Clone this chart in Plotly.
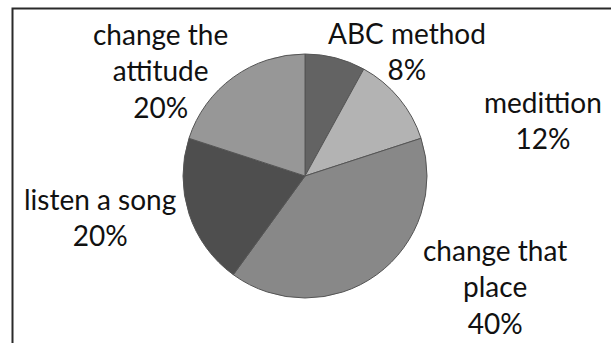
import plotly.graph_objects as go

# Share of each stress-relief approach (percent)
categories = ["ABC method", "medittion", "change that place", "listen a song", "change the attitude"]
values = [8, 12, 40, 20, 20]
# Line breaks used in the slice labels
label_lines = [["ABC method"], ["medittion"], ["change that", "place"], ["listen a song"], ["change the", "attitude"]]

colors = ["#636363", "#b3b3b3", "#888888", "#4e4e4e", "#979797"]

W, H = 611, 343
cx, cy, r = 305, 176, 122  # pie centre and radius in pixels

fig = go.Figure(go.Pie(
    labels=categories,
    values=values,
    sort=False,
    direction="clockwise",
    rotation=0,
    marker=dict(colors=colors, line=dict(color="#555555", width=1)),
    textinfo="none",
    hoverinfo="label+percent",
    showlegend=False,
    domain=dict(x=[(cx - r) / W, (cx + r) / W], y=[1 - (cy + r) / H, 1 - (cy - r) / H]),
))

# Label block centres (pixels) for each slice
label_pos = [(407, 51), (543, 120), (495, 286), (100, 217), (160, 70)]

total = sum(values)
for lines, v, (px, py) in zip(label_lines, values, label_pos):
    text = "<br>".join(lines + [f"{round(100 * v / total)}%"])
    fig.add_annotation(
        x=px / W, y=1 - py / H, xref="paper", yref="paper",
        text=text, showarrow=False, xanchor="center", yanchor="middle",
        font=dict(family="Lato", size=28, color="#111111"),
    )

# Chart frame (top and left edges visible)
fig.add_shape(type="rect", xref="paper", yref="paper",
              x0=12.5 / W, x1=1.05, y0=-0.05, y1=1 - 8.5 / H,
              line=dict(color="#2a2a2a", width=2), fillcolor="rgba(0,0,0,0)")

fig.update_layout(
    width=W, height=H,
    margin=dict(l=0, r=0, t=0, b=0),
    paper_bgcolor="white", plot_bgcolor="white",
)

fig.write_html("out.html")
